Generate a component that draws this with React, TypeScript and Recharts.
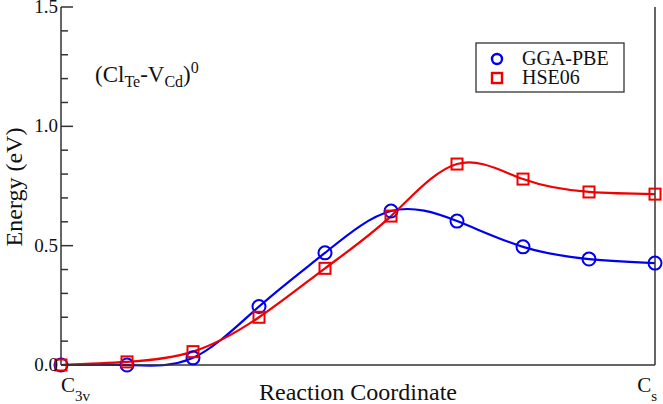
import { LineChart, Line, XAxis, YAxis } from "recharts";

const coord = [0, 1, 2, 3, 4, 5, 6, 7, 8, 9];
const ggaPbe = [0.0, 0.0, 0.03, 0.245, 0.47, 0.645, 0.603, 0.495, 0.444, 0.427];
const hse06 = [0.0, 0.013, 0.056, 0.2, 0.405, 0.624, 0.842, 0.779, 0.725, 0.716];
const yTicks = [0, 0.1, 0.2, 0.3, 0.4, 0.5, 0.6, 0.7, 0.8, 0.9, 1.0, 1.1, 1.2, 1.3, 1.4, 1.5];
const majorTicks = [0, 0.5, 1.0, 1.5];

const BLUE = "#0000f0";
const RED = "#f00000";
const FRAME = "#333333";
const FONT = "Liberation Serif, serif";

const data = coord.map((x, i) => ({ x, gga: ggaPbe[i], hse: hse06[i] }));

const isMajor = (v: number) => majorTicks.some(m => Math.abs(m - v) < 1e-6);

function LeftTick({ x, y, payload }: any) {
  const major = isMajor(payload.value);
  return (
    <g>
      <line x1={x} x2={x + (major ? 12 : 7)} y1={y} y2={y} stroke={FRAME} strokeWidth={1.5} />
      {major && (
        <text x={x - 3} y={y} dy={6} textAnchor="end" fontFamily={FONT} fontSize={19} fill="#111">
          {payload.value.toFixed(1)}
        </text>
      )}
    </g>
  );
}

function RightTick({ x, y, payload }: any) {
  const major = isMajor(payload.value);
  return <line x1={x} x2={x - (major ? 12 : 7)} y1={y} y2={y} stroke={FRAME} strokeWidth={1.5} />;
}

function XTick({ x, y, payload }: any) {
  const first = payload.value === 0;
  return (
    <text x={first ? x : x + 2} y={y + 27} textAnchor={first ? "start" : "end"} fontFamily={FONT} fontSize={21} fill="#111">
      C
      <tspan fontSize={15} dy={9}>{first ? "3v" : "s"}</tspan>
    </text>
  );
}

function XLabel({ viewBox }: any) {
  const { x, y, width } = viewBox;
  return (
    <text x={x + width / 2} y={y + 35} textAnchor="middle" fontFamily={FONT} fontSize={24} fill="#111">
      Reaction Coordinate
    </text>
  );
}

function YLabel({ viewBox }: any) {
  const { y, height } = viewBox;
  const cx = 22;
  const cy = y + height / 2 + 1;
  return (
    <text x={cx} y={cy} transform={`rotate(-90 ${cx} ${cy})`} textAnchor="middle" fontFamily={FONT} fontSize={24} fill="#111">
      Energy (eV)
    </text>
  );
}

function Circle({ cx, cy }: any) {
  if (cx == null || cy == null) return null;
  return <circle cx={cx} cy={cy} r={6.5} fill="none" stroke={BLUE} strokeWidth={2} />;
}

function Square({ cx, cy }: any) {
  if (cx == null || cy == null) return null;
  return <rect x={cx - 5.5} y={cy - 5.5} width={11} height={11} fill="none" stroke={RED} strokeWidth={2} />;
}

const legendItems = [
  { name: "GGA-PBE", shape: "circle", color: BLUE },
  { name: "HSE06", shape: "square", color: RED },
];

function LegendBox() {
  return (
    <svg width={150} height={51} style={{ position: "absolute", left: 475, top: 42 }}>
      <rect x={1} y={1} width={148} height={49} fill="#fff" stroke={FRAME} strokeWidth={1.3} />
      {legendItems.map((it, i) => {
        const cy = 17 + i * 19;
        return (
          <g key={it.name}>
            {it.shape === "circle" ? (
              <circle cx={22} cy={cy} r={5} fill="none" stroke={it.color} strokeWidth={2.4} />
            ) : (
              <rect x={17} y={cy - 5} width={10} height={10} fill="none" stroke={it.color} strokeWidth={2.4} />
            )}
            <text x={47} y={cy + 6} fontFamily={FONT} fontSize={20} fill="#111">
              {it.name}
            </text>
          </g>
        );
      })}
    </svg>
  );
}

export default function App() {
  return (
    <div style={{ position: "absolute", left: 0, top: 0, width: 663, height: 404, background: "#fff" }}>
      <LineChart width={663} height={404} data={data} margin={{ top: 7, right: 0, left: 0, bottom: 0 }} style={{ fontFamily: FONT }}>
        <XAxis
          dataKey="x"
          type="number"
          domain={[0, 9]}
          ticks={[0, 9]}
          tick={<XTick />}
          tickLine={false}
          tickSize={0}
          tickMargin={0}
          height={39}
          axisLine={{ stroke: FRAME, strokeWidth: 1.5 }}
          label={<XLabel />}
        />
        <XAxis xAxisId="top" orientation="top" dataKey="x" type="number" domain={[0, 9]} height={0} tick={false} tickLine={false} axisLine={{ stroke: FRAME, strokeWidth: 1.5 }} />
        <YAxis
          yAxisId="left"
          type="number"
          domain={[0, 1.5]}
          ticks={yTicks}
          interval={0}
          width={61}
          tick={<LeftTick />}
          tickLine={false}
          tickSize={0}
          tickMargin={0}
          axisLine={{ stroke: FRAME, strokeWidth: 1.5 }}
          label={<YLabel />}
        />
        <YAxis
          yAxisId="right"
          orientation="right"
          type="number"
          domain={[0, 1.5]}
          ticks={yTicks}
          interval={0}
          width={8}
          tick={<RightTick />}
          tickLine={false}
          tickSize={0}
          tickMargin={0}
          axisLine={{ stroke: FRAME, strokeWidth: 1.5 }}
        />
        <Line
          yAxisId="left"
          type="natural"
          dataKey="gga"
          name="GGA-PBE"
          stroke={BLUE}
          strokeWidth={2.2}
          dot={<Circle />}
          activeDot={false}
          isAnimationActive={false}
        />
        <Line
          yAxisId="left"
          type="natural"
          dataKey="hse"
          name="HSE06"
          stroke={RED}
          strokeWidth={2.2}
          dot={<Square />}
          activeDot={false}
          isAnimationActive={false}
        />
      </LineChart>
      <LegendBox />
      <div style={{ position: "absolute", left: 95, top: 60, fontFamily: FONT, fontSize: 23, color: "#111", whiteSpace: "nowrap", lineHeight: 1 }}>
        (Cl<sub style={{ fontSize: 16 }}>Te</sub>-V<sub style={{ fontSize: 16 }}>Cd</sub>)<sup style={{ fontSize: 16 }}>0</sup>
      </div>
    </div>
  );
}
